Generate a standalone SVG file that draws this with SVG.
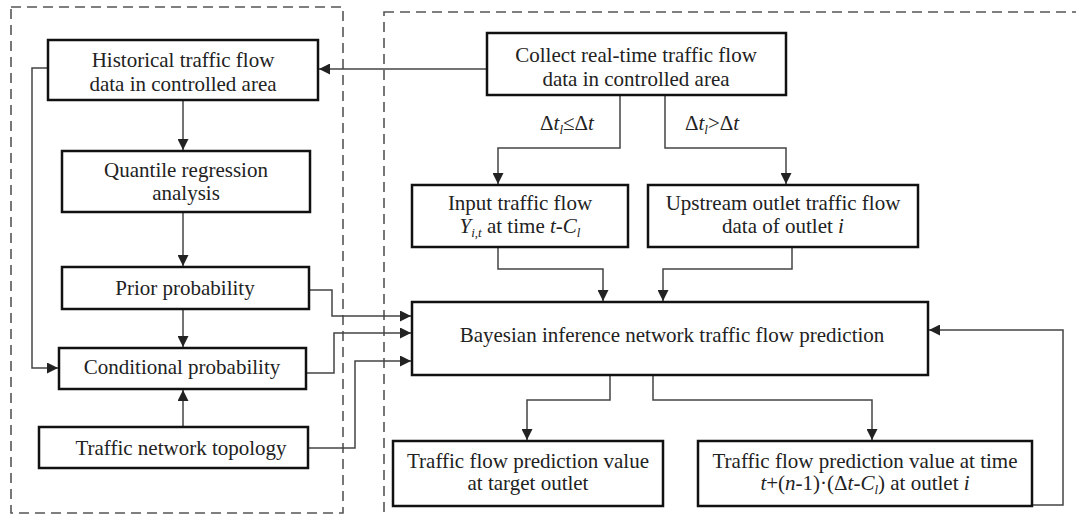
<svg xmlns="http://www.w3.org/2000/svg" width="1076" height="515" viewBox="0 0 1076 515">
<style>
.box{fill:#fff;stroke:#111;stroke-width:2.5}
.dash{fill:none;stroke:#555;stroke-width:1.6;stroke-dasharray:10 6}
.c{fill:none;stroke:#444;stroke-width:1.5}
text{font-family:"Liberation Serif","Times New Roman",serif;font-size:21px;fill:#222;text-anchor:middle}
.i{font-style:italic}
.s{font-size:13px;font-style:italic}
</style>
<defs>
<marker id="a" viewBox="0 0 10 10" refX="10" refY="5" markerWidth="11" markerHeight="11" markerUnits="userSpaceOnUse" orient="auto">
<path d="M0,0 L10,5 L0,10 Z" fill="#222"/>
</marker>
</defs>
<rect class="dash" x="11" y="7" width="332" height="506"/>
<rect class="dash" x="384" y="12" width="700" height="510"/>
<g id="connectors">
<path class="c" d="M487,69 H319" marker-end="url(#a)"/>
<path class="c" d="M183,100 V150" marker-end="url(#a)"/>
<path class="c" d="M183,212 V266" marker-end="url(#a)"/>
<path class="c" d="M183,309 V347" marker-end="url(#a)"/>
<path class="c" d="M183,427 V390" marker-end="url(#a)"/>
<path class="c" d="M48,68 H32 V368 H58" marker-end="url(#a)"/>
<path class="c" d="M620,95 V148 H498 V184" marker-end="url(#a)"/>
<path class="c" d="M665,95 V148 H786 V184" marker-end="url(#a)"/>
<path class="c" d="M498,247 V269 H603 V301" marker-end="url(#a)"/>
<path class="c" d="M792,247 V269 H663 V301" marker-end="url(#a)"/>
<path class="c" d="M309,290 H332 V316 H411" marker-end="url(#a)"/>
<path class="c" d="M306,373 H334 V333 H411" marker-end="url(#a)"/>
<path class="c" d="M308,448 H355 V361 H411" marker-end="url(#a)"/>
<path class="c" d="M610,375 V400 H527 V440" marker-end="url(#a)"/>
<path class="c" d="M653,375 V400 H872 V440" marker-end="url(#a)"/>
<path class="c" d="M1032,505 H1063 V330 H929" marker-end="url(#a)"/>
</g>
<g id="lbl1"><text x="567" y="130">Δ<tspan class="i">t</tspan><tspan class="s" dy="4">l</tspan><tspan dy="-4">≤Δ</tspan><tspan class="i">t</tspan></text></g>
<g id="lbl2"><text x="712" y="130">Δ<tspan class="i">t</tspan><tspan class="s" dy="4">l</tspan><tspan dy="-4">&gt;Δ</tspan><tspan class="i">t</tspan></text></g>
<g id="historical"><rect class="box" x="48" y="40" width="270" height="60"/><text x="183" y="67">Historical traffic flow</text><text x="183" y="91">data in controlled area</text></g>
<g id="quantile"><rect class="box" x="62" y="151" width="248" height="61"/><text x="186" y="177">Quantile regression</text><text x="186" y="200">analysis</text></g>
<g id="prior"><rect class="box" x="62" y="267" width="247" height="42"/><text x="185" y="295">Prior probability</text></g>
<g id="conditional"><rect class="box" x="59" y="348" width="247" height="41"/><text x="182" y="374">Conditional probability</text></g>
<g id="topology"><rect class="box" x="39" y="427" width="269" height="41"/><text x="181" y="455">Traffic network topology</text></g>
<g id="collect"><rect class="box" x="487" y="33" width="299" height="62"/><text x="636" y="62">Collect real-time traffic flow</text><text x="636" y="86">data in controlled area</text></g>
<g id="input"><rect class="box" x="412" y="185" width="216" height="62"/><text x="520" y="210">Input traffic flow</text><text x="520" y="233"><tspan class="i">Y</tspan><tspan class="s" dy="4">i,t</tspan><tspan dy="-4"> at time </tspan><tspan class="i">t</tspan>-<tspan class="i">C</tspan><tspan class="s" dy="4">l</tspan></text></g>
<g id="upstream"><rect class="box" x="648" y="185" width="270" height="62"/><text x="783" y="210">Upstream outlet traffic flow</text><text x="783" y="233">data of outlet <tspan class="i">i</tspan></text></g>
<g id="bayesian"><rect class="box" x="412" y="302" width="516" height="73"/><text x="672" y="342">Bayesian inference network traffic flow prediction</text></g>
<g id="target"><rect class="box" x="393" y="441" width="270" height="65"/><text x="528" y="468">Traffic flow prediction value</text><text x="528" y="490">at target outlet</text></g>
<g id="timebox"><rect class="box" x="698" y="441" width="334" height="65"/><text x="865" y="468">Traffic flow prediction value at time</text><text x="865" y="490"><tspan class="i">t</tspan>+(<tspan class="i">n</tspan>-1)·(Δ<tspan class="i">t</tspan>-<tspan class="i">C</tspan><tspan class="s" dy="4">l</tspan><tspan dy="-4">) at outlet </tspan><tspan class="i">i</tspan></text></g>
</svg>
